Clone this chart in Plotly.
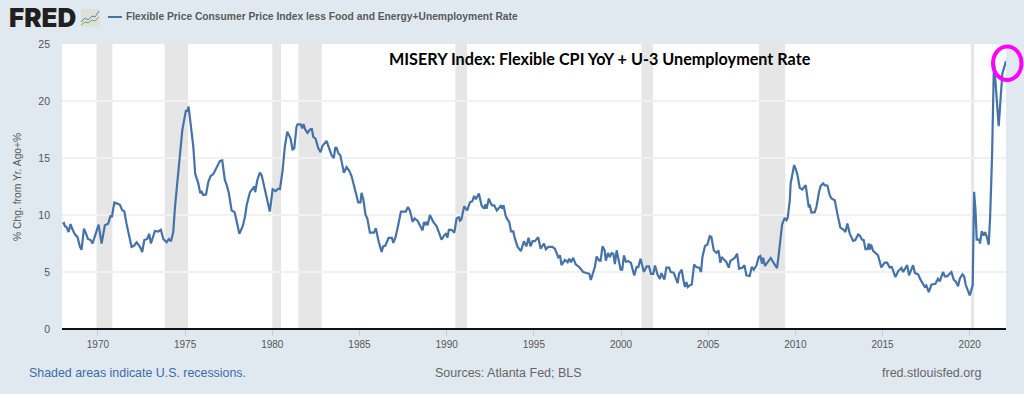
import plotly.graph_objects as go

years = [1967.97,1968.05,1968.11,1968.2,1968.32,1968.43,1968.55,1968.68,1968.83,1968.97,1969.06,1969.2,1969.31,1969.43,1969.58,1969.69,1969.81,1969.92,1970.04,1970.21,1970.4,1970.59,1970.73,1970.8,1970.94,1971.11,1971.26,1971.4,1971.51,1971.64,1971.78,1971.93,1972.07,1972.22,1972.41,1972.54,1972.66,1972.83,1972.94,1973.04,1973.27,1973.46,1973.61,1973.75,1973.94,1974.07,1974.19,1974.32,1974.42,1974.61,1974.84,1975.05,1975.11,1975.2,1975.32,1975.47,1975.58,1975.76,1975.87,1975.93,1976.04,1976.2,1976.33,1976.46,1976.62,1976.81,1977.0,1977.13,1977.28,1977.38,1977.51,1977.67,1977.84,1977.95,1978.11,1978.3,1978.43,1978.53,1978.72,1978.97,1979.02,1979.14,1979.29,
1979.39,1979.58,1979.71,1979.86,1980.02,1980.19,1980.34,1980.44,1980.59,1980.72,1980.86,1981.05,1981.16,1981.26,1981.39,1981.45,1981.62,1981.72,1981.79,1981.89,1982.02,1982.16,1982.27,1982.35,1982.48,1982.64,1982.77,1982.87,1983.11,1983.25,1983.4,1983.53,1983.61,1983.69,1983.78,1983.9,1984.11,1984.26,1984.41,1984.55,1984.74,1984.93,1985.06,1985.12,1985.22,1985.35,1985.45,1985.6,1985.83,1985.94,1986.08,1986.27,1986.36,1986.48,1986.67,1986.86,1986.94,1987.07,1987.22,1987.38,1987.51,1987.66,1987.78,1987.89,1988.05,1988.16,1988.33,1988.47,1988.62,1988.7,1988.79,1988.85,1988.91,1989.04,1989.23,1989.42,1989.56,1989.71,1989.86,1989.98,1990.04,1990.13,1990.28,1990.44,1990.57,1990.7,1990.76,
1990.84,1991.01,1991.18,1991.33,1991.47,1991.58,1991.68,1991.85,1992.0,1992.14,1992.23,1992.29,1992.42,1992.54,1992.61,1992.73,1992.88,1993.13,1993.19,1993.26,1993.38,1993.49,1993.59,1993.69,1993.82,1993.92,1994.07,1994.26,1994.43,1994.57,1994.7,1994.81,1994.93,1995.06,1995.25,1995.39,1995.58,1995.69,1995.83,1996.06,1996.21,1996.4,1996.5,1996.59,1996.78,1996.94,1997.03,1997.13,1997.26,1997.39,1997.64,1997.83,1998.03,1998.18,1998.27,1998.41,1998.5,1998.6,1998.75,1998.83,1998.94,1999.06,1999.13,1999.25,1999.36,1999.46,1999.56,1999.65,1999.75,1999.86,1999.98,2000.07,2000.17,2000.28,2000.42,2000.57,2000.76,2000.89,2000.99,2001.12,2001.31,2001.47,2001.6,2001.72,2001.85,2001.95,2002.1,2002.23,
2002.32,2002.49,2002.6,2002.76,2002.85,2003.02,2003.18,2003.25,2003.33,2003.48,2003.6,2003.67,2003.75,2003.83,2003.94,2004.06,2004.19,2004.32,2004.48,2004.59,2004.67,2004.82,2004.95,2005.09,2005.18,2005.32,2005.47,2005.59,2005.7,2005.76,2005.89,2006.04,2006.18,2006.27,2006.52,2006.66,2006.77,2006.96,2007.08,2007.19,2007.38,2007.5,2007.61,2007.77,2007.9,2007.99,2008.09,2008.15,2008.26,2008.43,2008.59,2008.78,2008.95,2009.05,2009.14,2009.24,2009.39,2009.49,2009.56,2009.68,2009.73,2009.93,2010.02,2010.12,2010.25,2010.4,2010.59,2010.69,2010.77,2010.82,2010.92,2011.11,2011.21,2011.36,2011.45,2011.59,2011.68,2011.84,2011.97,
2012.07,2012.26,2012.41,2012.58,2012.77,2012.87,2012.98,2013.12,2013.31,2013.44,2013.6,2013.69,2013.82,2013.92,2014.02,2014.13,2014.21,2014.26,2014.34,2014.46,2014.74,2014.93,2015.12,2015.26,2015.41,2015.53,2015.74,2015.89,2016.08,2016.18,2016.41,2016.52,2016.75,2016.86,2017.04,2017.17,2017.42,2017.51,2017.65,2017.8,2018.03,2018.18,2018.28,2018.47,2018.57,2018.7,2018.95,2019.08,2019.2,2019.33,2019.43,2019.58,2019.68,2019.77,2020.0,2020.13,2020.17,2020.25,2020.33,2020.4,2020.54,2020.59,2020.69,2020.8,2020.88,2020.98,2021.09,2021.17,2021.28,2021.39,2021.66,2021.87,2022.08]

misery = [9.24,9.3,9.0,8.95,8.5,9.2,8.7,8.3,8.06,7.2,6.95,8.8,8.4,7.9,7.8,7.5,8.06,8.65,9.15,7.5,9.1,9.24,9.97,9.8,11.1,11.0,10.9,10.4,10.35,9.24,8.2,7.2,7.3,7.6,7.2,6.75,7.8,7.9,8.35,7.5,8.6,8.55,8.7,7.9,7.6,7.9,7.7,8.5,10.7,13.9,17.45,19.2,19.06,19.5,17.7,16.0,13.6,12.75,11.9,12.1,11.75,11.8,12.9,13.4,13.6,14.2,14.75,14.8,13.05,12.67,11.9,10.4,10.25,9.5,8.35,9.0,9.8,10.85,12.0,12.5,12.0,13.05,13.72,
13.5,12.17,11.3,10.3,12.26,12.1,12.3,12.26,13.9,16.0,17.3,16.7,15.75,15.84,17.74,17.95,17.95,17.6,17.98,17.5,17.2,17.5,17.54,16.86,16.7,15.84,15.5,16.04,16.5,15.84,15.25,15.0,15.9,15.9,15.45,15.25,13.7,14.2,13.9,13.4,12.3,11.1,11.1,11.95,11.4,10.0,9.7,8.45,8.45,8.85,7.8,6.75,7.25,7.3,8.0,8.0,7.55,8.05,9.1,10.3,10.3,10.3,10.7,10.4,9.4,9.7,9.5,9.15,8.65,9.4,9.1,9.4,9.1,10.0,9.4,9.03,8.5,7.83,8.2,8.4,8.0,8.7,8.7,8.45,9.7,9.8,9.5,
9.6,10.76,10.4,11.1,11.2,11.67,11.38,11.88,10.85,10.55,10.94,10.55,11.44,11.0,10.85,10.85,10.4,10.85,10.55,10.85,9.97,9.6,9.4,8.56,8.56,7.9,7.2,6.83,7.7,7.25,8.0,7.25,7.7,7.7,8.06,7.04,7.5,7.0,7.2,7.2,7.04,6.3,6.45,5.6,6.07,5.86,6.16,5.86,6.25,5.7,5.37,5.0,4.93,4.84,4.3,5.13,5.43,6.36,6.0,6.0,7.25,6.9,6.0,6.66,6.3,6.66,6.6,5.7,6.9,6.07,5.2,5.2,6.45,5.9,5.95,5.8,4.7,5.43,5.43,6.16,5.0,5.5,5.5,4.84,4.84,5.57,4.75,4.4,
4.9,4.33,5.38,5.38,5.0,4.94,4.41,4.03,4.85,5.2,4.12,3.68,4.12,3.68,3.83,3.9,5.65,5.44,5.38,5.0,6.32,7.29,7.4,8.14,8.08,6.9,6.67,6.9,5.8,6.32,6.11,5.88,5.38,5.97,6.23,6.6,5.3,5.38,5.59,4.7,4.65,5.44,5.2,5.59,6.32,6.4,5.73,6.26,5.53,5.88,6.23,5.73,5.35,6.6,8.08,9.19,9.75,9.55,9.75,11.3,12.77,14.38,14.03,13.5,12.39,12.24,12.62,11.6,10.66,10.92,10.22,10.25,10.72,12.04,12.54,12.77,12.62,12.57,11.74,
11.45,11.3,10.1,8.9,8.7,8.5,9.25,8.37,7.73,7.8,8.3,8.2,7.84,7.8,7.0,7.0,7.5,6.96,7.4,6.85,6.47,5.4,5.82,5.82,5.4,5.44,4.56,5.06,5.35,5.0,5.6,4.7,5.6,4.9,4.8,4.35,3.7,3.83,3.24,3.88,3.97,4.41,4.18,5.0,4.62,4.62,5.0,4.33,4.18,3.74,4.41,4.8,4.62,3.88,2.95,3.68,3.83,12.04,10.43,7.84,7.84,7.5,8.58,8.2,8.5,8.08,7.4,9.85,15.1,23.5,17.8,22.4,23.5]

recession_starts = [1969.92,1973.83,1980.0,1981.5,1990.5,2001.17,2007.92,2020.08]
recession_ends = [1970.83,1975.17,1980.5,1982.83,1991.17,2001.83,2009.42,2020.25]
x_ticks = [1970,1975,1980,1985,1990,1995,2000,2005,2010,2015,2020]
y_ticks = [0,5,10,15,20,25]

W, H = 1024, 394
L, R, T, B = 62, 1006, 44, 329
def px(x): return (x - L) / (R - L)
def py(y): return (B - y) / (B - T)

fig = go.Figure()
fig.add_trace(go.Scatter(x=years, y=misery, mode="lines", name="Misery",
                         line=dict(color="#4572a7", width=2.2), showlegend=False,
                         cliponaxis=False))

shapes = []
for a, b in zip(recession_starts, recession_ends):
    shapes.append(dict(type="rect", xref="x", yref="paper", x0=a, x1=b, y0=0, y1=1,
                       fillcolor="#e6e6e6", line_width=0, layer="below"))
# legend key
shapes.append(dict(type="line", xref="paper", yref="paper", x0=px(108), x1=px(122),
                   y0=py(17), y1=py(17), line=dict(color="#4572a7", width=2)))
# FRED icon
shapes.append(dict(type="rect", xref="paper", yref="paper", x0=px(81), x1=px(100),
                   y0=py(27), y1=py(9), fillcolor="#dfe0da", line_width=0))
def path(pts):
    return "M " + " L ".join(f"{px(a):.5f},{py(b):.5f}" for a, b in pts)
shapes.append(dict(type="path", xref="paper", yref="paper",
                   path=path([(81,22),(85,18),(88,20),(92,16),(95,17),(99,11)]),
                   line=dict(color="#5b84b1", width=1)))
shapes.append(dict(type="path", xref="paper", yref="paper",
                   path=path([(81,25),(85,22),(88,23),(92,20),(95,21),(99,17)]),
                   line=dict(color="#7aa95c", width=1)))
# magenta highlight circle
shapes.append(dict(type="circle", xref="paper", yref="paper", x0=px(993), x1=px(1021.5),
                   y0=py(80), y1=py(46.5), line=dict(color="#ff00ff", width=4), fillcolor="rgba(0,0,0,0)"))

def note(text, x, y, size, color, anchor="left", family="Liberation Sans", weight=None, **kw):
    font = dict(family=family, size=size, color=color)
    if weight:
        font["weight"] = weight
    return dict(text=text, x=px(x), y=py(y), xref="paper", yref="paper", showarrow=False,
                xanchor=anchor, yanchor="middle", font=font, **kw)

annotations = [
    note("FRED", 7, 18, 26, "#231f20", family="Inter", weight=900),
    note("<b>Flexible Price Consumer Price Index less Food and Energy+Unemployment Rate</b>", 124, 17, 10.25, "#595959"),
    note("<b>MISERY Index: Flexible CPI YoY + U-3 Unemployment Rate</b>", 600, 58, 16.2, "#000000", anchor="center", family="Lato"),
    note("Shaded areas indicate U.S. recessions.", 27, 372.5, 12.4, "#3c6ca8"),
    note("Sources: Atlanta Fed; BLS", 508, 372.5, 12.5, "#666666", anchor="center"),
    note("fred.stlouisfed.org", 983, 372.5, 12.5, "#666666", anchor="right"),
    note("% Chg. from Yr. Ago+%", 17, 187, 10.3, "#555555", anchor="center", textangle=-90),
]

fig.update_layout(
    width=W, height=H, autosize=False,
    margin=dict(l=L, r=W - R, t=T, b=H - B, pad=0),
    paper_bgcolor="#e1e9f0", plot_bgcolor="#ffffff",
    shapes=shapes, annotations=annotations,
    font=dict(family="Liberation Sans", size=10, color="#555555"),
    xaxis=dict(range=[1967.94, 2022.08], tickmode="array", tickvals=x_ticks, showgrid=False,
               ticks="outside", ticklen=6, tickcolor="#c0d0e0", tickwidth=1, zeroline=False,
               showline=False, tickfont=dict(size=10, color="#555555")),
    yaxis=dict(range=[0, 25], tickmode="array", tickvals=y_ticks, showgrid=True, gridcolor="#f1f1f1",
               gridwidth=2, zeroline=True, zerolinecolor="#111111", zerolinewidth=2,
               ticks="", showline=False, ticklabelstandoff=11,
               tickfont=dict(size=10.5, color="#555555")),
)

fig.write_html("out.html", config=dict(displayModeBar=False),
               post_script="document.body.style.margin='0';document.body.style.overflow='hidden';")
